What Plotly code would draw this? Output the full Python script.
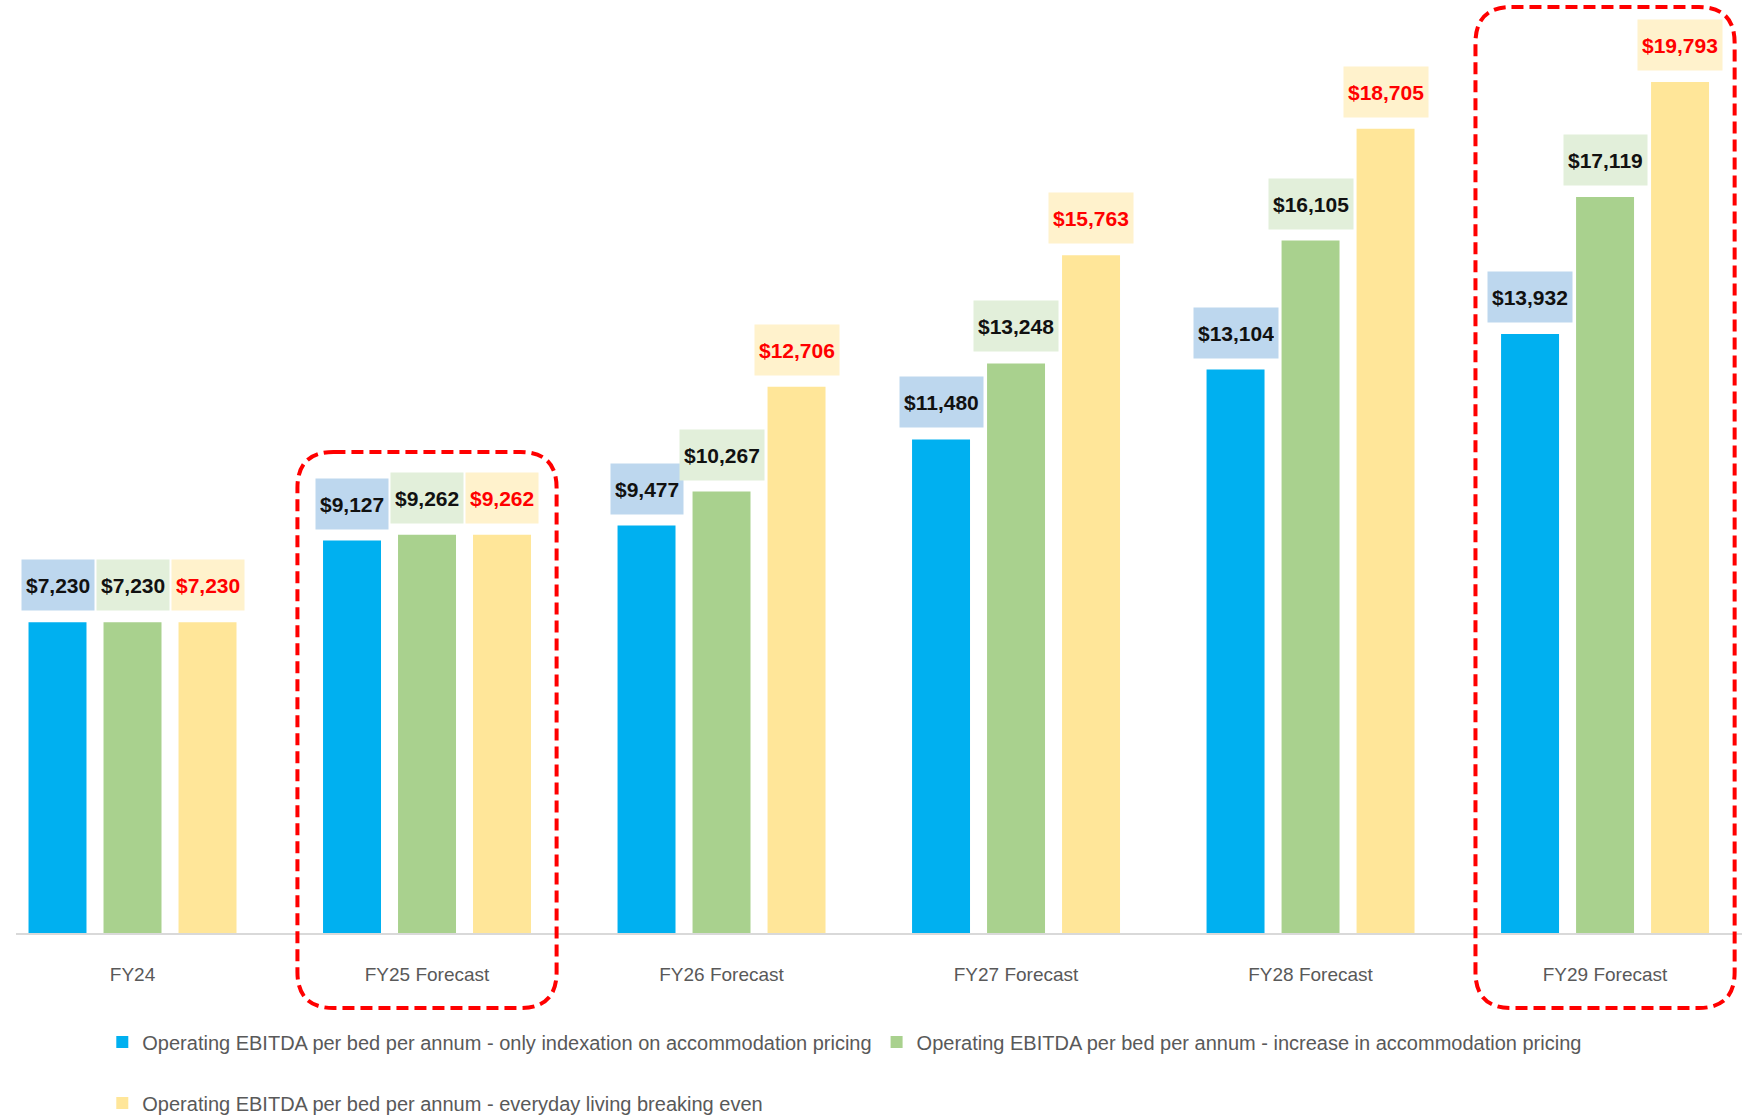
import plotly.graph_objects as go

# Data
categories = ["FY24", "FY25 Forecast", "FY26 Forecast", "FY27 Forecast", "FY28 Forecast", "FY29 Forecast"]
indexation_only = [7230, 9127, 9477, 11480, 13104, 13932]
accommodation_increase = [7230, 9262, 10267, 13248, 16105, 17119]
living_break_even = [7230, 9262, 12706, 15763, 18705, 19793]

series_names = [
    "Operating EBITDA per bed per annum - only indexation on accommodation pricing",
    "Operating EBITDA per bed per annum - increase in accommodation pricing",
    "Operating EBITDA per bed per annum - everyday living breaking even",
]
highlighted = ["FY25 Forecast", "FY29 Forecast"]

# Styling
FONT = "Liberation Sans, Arial, sans-serif"
bar_colors = ["#00B0F0", "#A9D18E", "#FFE699"]
label_bg = ["#BDD7EE", "#E2EFDA", "#FFF2CC"]
label_fg = ["#111111", "#111111", "#FF0000"]
BARGAP = 0.236
BARGROUPGAP = 0.227
W, H = 1742, 1117
M_L, M_R, M_T, M_B = 16, 0, 0, 184

series = [indexation_only, accommodation_increase, living_break_even]
legend_ids = ["legend", "legend", "legend2"]

fig = go.Figure()
for k, (name, vals) in enumerate(zip(series_names, series)):
    fig.add_trace(go.Bar(
        x=categories, y=vals, name=name,
        marker=dict(color=bar_colors[k], line=dict(width=0)),
        legend=legend_ids[k],
        hoverinfo="x+y",
    ))

# value labels with coloured boxes above each bar
slot = (1 - BARGAP) / len(series)
annotations = []
for k, vals in enumerate(series):
    off = (k - (len(series) - 1) / 2) * slot
    for i, v in enumerate(vals):
        annotations.append(dict(
            x=i + off, y=v, xref="x", yref="y",
            text=f"<b>${v:,}</b>", showarrow=False,
            xanchor="center", yanchor="bottom", yshift=11,
            bgcolor=label_bg[k], borderpad=4, height=42,
            font=dict(family=FONT, size=21, color=label_fg[k]),
        ))

# dashed rounded frames around highlighted years
plot_h = H - M_T - M_B
shapes = []
for cat in highlighted:
    i = categories.index(cat)
    x0, x1 = i - 0.44, i + 0.44
    top_px = 452 if cat == "FY25 Forecast" else 7
    y1 = (H - M_B - top_px) / plot_h
    y0 = (H - M_B - 1008) / plot_h
    rx = 36 / 294.5
    ry = 36 / plot_h
    path = (
        f"M {x0 + rx},{y1} L {x1 - rx},{y1} Q {x1},{y1} {x1},{y1 - ry} "
        f"L {x1},{y0 + ry} Q {x1},{y0} {x1 - rx},{y0} "
        f"L {x0 + rx},{y0} Q {x0},{y0} {x0},{y0 + ry} "
        f"L {x0},{y1 - ry} Q {x0},{y1} {x0 + rx},{y1} Z"
    )
    shapes.append(dict(
        type="path", path=path, xref="x", yref="paper",
        line=dict(color="#FF0000", width=4, dash="12px,6px"),
        fillcolor="rgba(0,0,0,0)", layer="above",
    ))

legend_style = dict(
    orientation="h", xanchor="left", yanchor="middle",
    font=dict(family=FONT, size=20, color="#595959"),
    bgcolor="rgba(0,0,0,0)", itemwidth=30, itemclick=False,
    tracegroupgap=0,
)

fig.update_layout(
    width=W, height=H,
    margin=dict(l=M_L, r=M_R, t=M_T, b=M_B, autoexpand=False),
    paper_bgcolor="white", plot_bgcolor="white",
    barmode="group", bargap=BARGAP, bargroupgap=BARGROUPGAP,
    font=dict(family=FONT, color="#595959"),
    xaxis=dict(
        type="category", range=[-0.3956, 5.465],
        showline=True, linecolor="#D9D9D9", linewidth=2,
        showgrid=False, ticks="", ticklabelstandoff=23,
        tickfont=dict(family=FONT, size=19, color="#595959"),
        fixedrange=True,
    ),
    yaxis=dict(
        range=[0, 21700], visible=False, showgrid=False, zeroline=False,
        fixedrange=True,
    ),
    legend=dict(x=0.050, y=(H - M_B - 1042) / plot_h, **legend_style),
    legend2=dict(x=0.050, y=(H - M_B - 1103) / plot_h, **legend_style),
    annotations=annotations,
    shapes=shapes,
    showlegend=True,
)

fig.write_html("out.html")
